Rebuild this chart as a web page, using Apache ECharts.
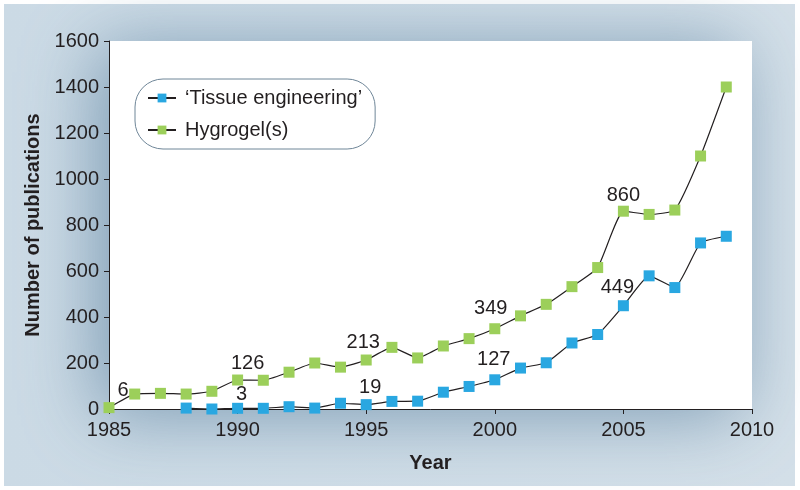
<!DOCTYPE html>
<html><head><meta charset="utf-8">
<script src="https://cdn.jsdelivr.net/npm/echarts@6/dist/echarts.min.js"></script>
<style>html,body{margin:0;padding:0;background:#fff}#c{width:800px;height:490px}</style>
</head><body><div id="c"></div>
<script>
const years = [1985,1986,1987,1988,1989,1990,1991,1992,1993,1994,1995,1996,1997,1998,1999,2000,2001,2002,2003,2004,2005,2006,2007,2008,2009];
const hydrogel = [6,65,68,65,77,126,125,160,200,182,213,268,222,274,306,349,405,455,532,615,860,846,865,1100,1400];
const tissueYears = [1988,1989,1990,1991,1992,1993,1994,1995,1996,1997,1998,1999,2000,2001,2002,2003,2004,2005,2006,2007,2008,2009];
const tissue = [4,0,3,3,10,4,25,19,33,34,73,98,127,178,201,287,324,449,579,528,722,751];
const hydrogelLabelYears = [1985,1990,1995,2000,2005];
const tissueLabelYears = [1990,1995,2000,2005];
const yTicks = [0,200,400,600,800,1000,1200,1400,1600];
const xTicks = [1985,1990,1995,2000,2005,2010];

const labelOffsets = {
  'h1985':[14,-2],'h1990':[10,-1.5],'h1995':[-3,-2],'h2000':[-4,-4.5],'h2005':[0,0],
  't1990':[4,1.5],'t1995':[4,-1.5],'t2000':[-1,-4.5],'t2005':[-6,-2.5]
};
const font = 'Liberation Sans, Arial, sans-serif';
const ink = '#231f20';
function build(xs, ys, labelYears, key){
  return xs.map((x,i)=>{
    const item = {value:[x, ys[i]]};
    if (labelYears.includes(x)) {
      item.label = {show:true, position:'top', distance:0, offset:labelOffsets[key+x],
        formatter: p => String(p.value[1]), fontSize:20, color:ink, fontFamily:font};
    }
    return item;
  });
}
const chart = echarts.init(document.getElementById('c'), null, {renderer:'canvas'});
chart.setOption({
  backgroundColor:'#fff',
  animation:false,
  graphic:[{type:'rect', z:-10, shape:{x:4,y:4,width:791,height:482},
    style:{fill:{type:'linear',x:0,y:0,x2:1,y2:0,colorStops:[{offset:0,color:'#cbdae5'},{offset:1,color:'#d3dfe8'}]}}}],
  grid:{left:109, right:48, top:41, bottom:81, show:true, backgroundColor:'#ffffff', borderWidth:0,
    shadowBlur:70, shadowColor:'rgba(110,145,172,0.85)', shadowOffsetX:-12, shadowOffsetY:6},
  legend:{
    left:135, top:79, orient:'vertical', itemGap:12, itemWidth:28, itemHeight:11,
    padding:[9,13,9,12], backgroundColor:'#fff', borderColor:'#6f8698', borderWidth:1, borderRadius:28,
    textStyle:{fontSize:20, color:ink, fontFamily:font, padding:[0,0,0,4]},
    data:['‘Tissue engineering’','Hygrogel(s)']
  },
  xAxis:{type:'value', min:1985, max:2010, interval:5,
    name:'Year', nameLocation:'middle', nameGap:44,
    nameTextStyle:{fontSize:20, fontWeight:'bold', color:ink, fontFamily:font},
    axisLine:{show:true, lineStyle:{color:ink, width:1}},
    axisTick:{show:true, length:5, lineStyle:{color:ink}},
    axisLabel:{fontSize:20, color:ink, margin:11, fontFamily:font, formatter:v=>xTicks.includes(v)?String(v):''},
    splitLine:{show:false}},
  yAxis:{type:'value', min:0, max:1600, interval:200,
    name:'Number of publications', nameLocation:'middle', nameGap:64,
    nameTextStyle:{fontSize:20, fontWeight:'bold', color:ink, fontFamily:font},
    axisLine:{show:true, lineStyle:{color:ink, width:1}},
    axisTick:{show:true, length:5, lineStyle:{color:ink}},
    axisLabel:{fontSize:20, color:ink, margin:10, fontFamily:font, formatter:v=>yTicks.includes(v)?String(v):''},
    splitLine:{show:false}},
  series:[
    {name:'‘Tissue engineering’', type:'line', data:build(tissueYears, tissue, tissueLabelYears,'t'),
      symbol:'rect', symbolSize:11, smooth:0.15,
      lineStyle:{color:ink, width:1.2}, itemStyle:{color:'#29a7e1', borderWidth:0}, z:3},
    {name:'Hygrogel(s)', type:'line', data:build(years, hydrogel, hydrogelLabelYears,'h'),
      symbol:'rect', symbolSize:11, smooth:0.15,
      lineStyle:{color:ink, width:1.2}, itemStyle:{color:'#9ccf5a', borderWidth:0}, z:4}
  ]
});
</script></body></html>
